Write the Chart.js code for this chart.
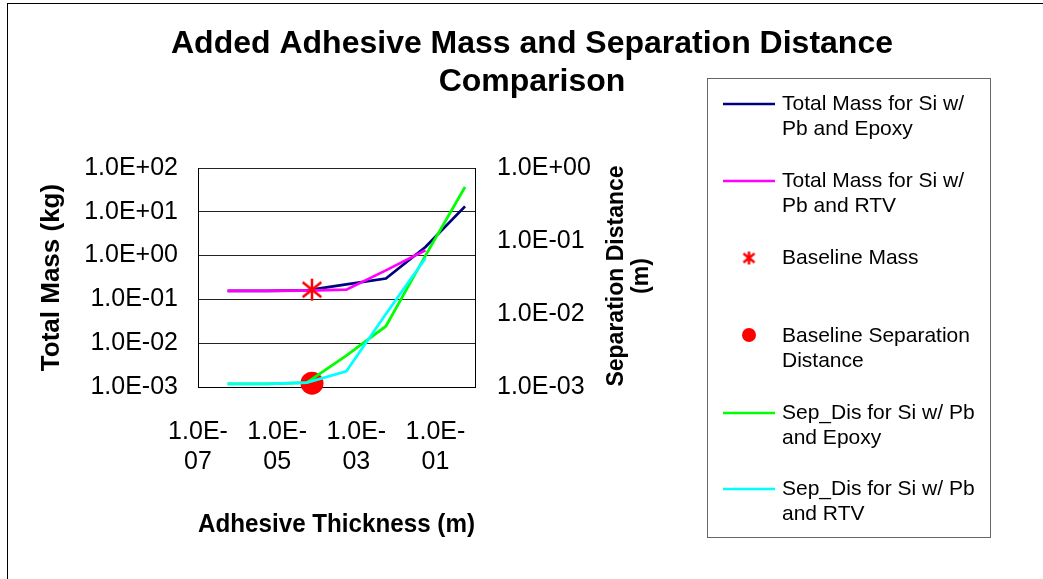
<!DOCTYPE html>
<html>
<head>
<meta charset="utf-8">
<script src="https://cdn.jsdelivr.net/npm/chart.js@4.4.1/dist/chart.umd.min.js"></script>
<style>
  html, body { margin: 0; padding: 0; background: #fff; }
  canvas { display: block; }
</style>
</head>
<body>
<canvas id="chart" width="1043" height="579"></canvas>
<script>
// adhesive thickness (m) for each computed point
const thickness = [5.6e-7, 5.6e-6, 5.6e-5, 5.6e-4, 5.6e-3, 5.6e-2, 5.6e-1];
// total mass (kg), left axis
const massEpoxy = [0.156, 0.156, 0.16, 0.22, 0.30, 1.57, 13.3];
const massRTV = [0.156, 0.156, 0.158, 0.167, 0.46, 1.32];
// separation distance (m), right axis
const sepEpoxy = [0.0011, 0.0011, 0.00115, 0.0027, 0.0068, 0.063, 0.55];
const sepRTV = [0.0011, 0.0011, 0.00115, 0.00164, 0.0100, 0.058];
// baseline design
const baseThickness = [7.6e-5];
const baseMass = [0.167];
const baseSep = [0.00113];

const xTicks = [1e-7, 1e-5, 1e-3, 1e-1];
const massTicks = [1e-3, 1e-2, 1e-1, 1e0, 1e1, 1e2];
const sepTicks = [1e-3, 1e-2, 1e-1, 1e0];

const legendLines = [
  ['Total Mass for Si w/', 'Pb and Epoxy'],
  ['Total Mass for Si w/', 'Pb and RTV'],
  ['Baseline Mass'],
  ['Baseline Separation', 'Distance'],
  ['Sep_Dis for Si w/ Pb', 'and Epoxy'],
  ['Sep_Dis for Si w/ Pb', 'and RTV']
];

const FONT = "'Liberation Sans', Arial, sans-serif";
Chart.defaults.font.family = FONT;
Chart.defaults.color = '#000';

const pts = (xs, ys) => ys.map((y, i) => ({ x: xs[i], y: y }));

function sci(v) {
  const e = Math.round(Math.log10(v));
  return '1.0E' + (e < 0 ? '-' : '+') + String(Math.abs(e)).padStart(2, '0');
}

function makeStar(size, lw) {
  const c = document.createElement('canvas');
  c.width = size; c.height = size;
  const g = c.getContext('2d');
  const m = size / 2, r = size / 2 - 1;
  const d = r * 0.85;
  g.strokeStyle = '#ff0000';
  g.lineWidth = lw;
  g.beginPath();
  g.moveTo(m, m - r); g.lineTo(m, m + r);
  g.moveTo(m - d, m - d * 0.8); g.lineTo(m + d, m + d * 0.8);
  g.moveTo(m + d, m - d * 0.8); g.lineTo(m - d, m + d * 0.8);
  g.stroke();
  return c;
}
const bigStar = makeStar(24, 2.5);
const smallStar = makeStar(15, 2.5);

const frame = {
  id: 'frame',
  beforeDraw(chart) {
    const ctx = chart.ctx;
    ctx.save();
    ctx.fillStyle = '#fff';
    ctx.fillRect(0, 0, chart.width, chart.height);
    ctx.strokeStyle = '#000';
    ctx.lineWidth = 1;
    ctx.strokeRect(7.5, 3.5, 1200, 800);
    ctx.restore();
  },
  afterDraw(chart) {
    const ctx = chart.ctx;
    ctx.save();
    ctx.fillStyle = '#000';
    ctx.textAlign = 'center';
    ctx.textBaseline = 'middle';
    // chart title
    ctx.font = 'bold 32px ' + FONT;
    ctx.fillText('Added Adhesive Mass and Separation Distance', 532, 44);
    ctx.fillText('Comparison', 532, 82);
    // right axis title, reads bottom to top
    ctx.save();
    ctx.translate(629, 276);
    ctx.rotate(-Math.PI / 2);
    ctx.font = 'bold 23px ' + FONT;
    ctx.fillText('Separation Distance', 0, -12);
    ctx.fillText('(m)', 0, 13);
    ctx.restore();

    // legend
    ctx.strokeStyle = '#666';
    ctx.lineWidth = 1;
    ctx.strokeRect(707.5, 78.5, 283, 459);
    const rows = [104, 181, 258, 336, 413, 489];
    ctx.textAlign = 'left';
    ctx.font = '21px ' + FONT;
    chart.data.datasets.forEach((ds, i) => {
      const y = rows[i];
      if (ds.showLine) {
        ctx.strokeStyle = ds.borderColor;
        ctx.lineWidth = 2.5;
        ctx.beginPath();
        ctx.moveTo(723, y);
        ctx.lineTo(775, y);
        ctx.stroke();
      } else if (ds.pointStyle === 'circle') {
        ctx.fillStyle = ds.backgroundColor;
        ctx.beginPath();
        ctx.arc(749, y - 1, 7, 0, Math.PI * 2);
        ctx.fill();
      } else {
        ctx.drawImage(smallStar, 749 - 7.5, y - 7.5);
      }
      ctx.fillStyle = '#000';
      legendLines[i].forEach((t, k) => ctx.fillText(t, 782, y + k * 25));
    });
    ctx.restore();
  }
};

new Chart(document.getElementById('chart'), {
  type: 'scatter',
  data: {
    datasets: [{
      label: 'Total Mass for Si w/ Pb and Epoxy',
      data: pts(thickness, massEpoxy),
      yAxisID: 'y',
      showLine: true,
      borderColor: '#000080',
      borderWidth: 2.75,
      pointRadius: 0,
      order: 6
    }, {
      label: 'Total Mass for Si w/ Pb and RTV',
      data: pts(thickness, massRTV),
      yAxisID: 'y',
      showLine: true,
      borderColor: '#ff00ff',
      borderWidth: 2.75,
      pointRadius: 0,
      order: 5
    }, {
      label: 'Baseline Mass',
      data: pts(baseThickness, baseMass),
      yAxisID: 'y',
      showLine: false,
      pointStyle: bigStar,
      pointRadius: 12,
      order: 4,
      clip: false
    }, {
      label: 'Baseline Separation Distance',
      data: pts(baseThickness, baseSep),
      yAxisID: 'y2',
      showLine: false,
      pointStyle: 'circle',
      pointRadius: 11.5,
      backgroundColor: '#ff0000',
      borderWidth: 0,
      order: 3,
      clip: false
    }, {
      label: 'Sep_Dis for Si w/ Pb and Epoxy',
      data: pts(thickness, sepEpoxy),
      yAxisID: 'y2',
      showLine: true,
      borderColor: '#00ff00',
      borderWidth: 2.75,
      pointRadius: 0,
      order: 2
    }, {
      label: 'Sep_Dis for Si w/ Pb and RTV',
      data: pts(thickness, sepRTV),
      yAxisID: 'y2',
      showLine: true,
      borderColor: '#00ffff',
      borderWidth: 2.75,
      pointRadius: 0,
      order: 1
    }]
  },
  options: {
    responsive: false,
    animation: false,
    devicePixelRatio: 1,
    layout: { padding: { left: 10, right: 388, top: 168, bottom: 39 } },
    plugins: {
      legend: { display: false },
      tooltip: { enabled: false },
      title: { display: false }
    },
    scales: {
      x: {
        type: 'logarithmic',
        position: 'bottom',
        min: 1e-7,
        max: 1,
        afterBuildTicks: s => { s.ticks = xTicks.map(v => ({ value: v })); },
        afterFit: s => { s.height = 153; },
        grid: { display: false, drawTicks: false },
        border: { display: true, color: '#000', width: 1 },
        ticks: {
          padding: 30,
          maxRotation: 0,
          autoSkip: false,
          font: { size: 25, lineHeight: '30px' },
          callback: v => { const s = sci(v); return [s.slice(0, 5), s.slice(5)]; }
        },
        title: {
          display: true,
          text: 'Adhesive Thickness (m)',
          font: { size: 26, weight: 'bold' },
          padding: 0
        }
      },
      y: {
        type: 'logarithmic',
        position: 'left',
        min: 1e-3,
        max: 1e2,
        afterBuildTicks: s => { s.ticks = massTicks.map(v => ({ value: v })); },
        afterFit: s => { s.width = 188; },
        grid: { color: '#222', lineWidth: 1, drawTicks: false },
        border: { display: true, color: '#000', width: 1 },
        ticks: { padding: 20, font: { size: 25 }, callback: v => sci(v) },
        title: {
          display: true,
          text: 'Total Mass (kg)',
          font: { size: 26, weight: 'bold' },
          padding: { top: 26, bottom: 0 }
        }
      },
      y2: {
        type: 'logarithmic',
        position: 'right',
        min: 1e-3,
        max: 1e0,
        afterBuildTicks: s => { s.ticks = sepTicks.map(v => ({ value: v })); },
        afterFit: s => { s.width = 180; },
        grid: { display: false, drawTicks: false },
        border: { display: true, color: '#000', width: 1 },
        ticks: { padding: 22, font: { size: 25 }, callback: v => sci(v) }
      }
    }
  },
  plugins: [frame]
});
</script>
</body>
</html>
